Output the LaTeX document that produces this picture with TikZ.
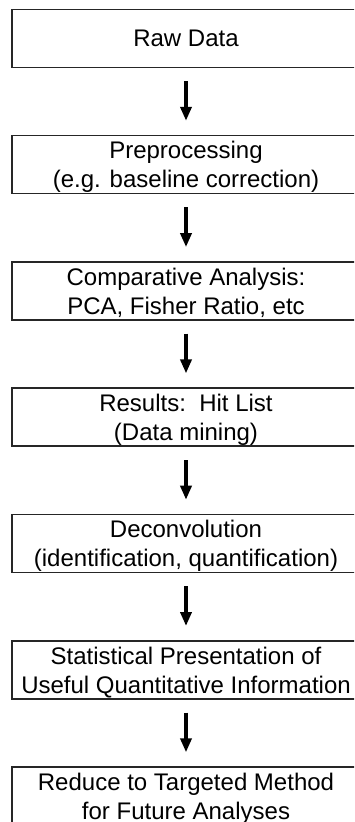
\documentclass[tikz,border=0pt]{standalone}
\usepackage{fontspec}
\setmainfont{Liberation Sans}
\usetikzlibrary{positioning, arrows.meta}
\definecolor{boxline}{HTML}{262626}

\begin{document}
\begin{tikzpicture}[x=1pt, y=1pt, node distance=66.7pt,
      every node/.style={font=\fontsize{24pt}{29pt}\selectfont, align=center},
      stage/.style={draw=boxline, line width=1.6pt, minimum width=348.4pt, minimum height=58pt,
        inner sep=0pt, text depth=0pt},
      flow/.style={-{Triangle[width=11pt, length=14pt]}, line width=3.6pt,
        shorten <=13pt, shorten >=14pt}]
    \clip (0,0) rectangle (354,-822);
    \node[stage] (raw) at (186,-38.3) {Raw Data};
    \node[stage, below=of raw] (prep) {Preprocessing \\ (e.g. baseline correction)};
    \node[stage, below=of prep] (comp) {Comparative Analysis: \\ PCA, Fisher Ratio, etc};
    \node[stage, below=of comp] (hits) {Results:~~Hit List \\ (Data mining)};
    \node[stage, below=of hits] (deconv) {Deconvolution \\ (identification, quantification)};
    \node[stage, below=of deconv] (stats) {Statistical Presentation of \\ Useful Quantitative Information};
    \node[stage, below=of stats] (reduce) {Reduce to Targeted Method \\ for Future Analyses};
    \draw[flow] (raw) -- (prep);
    \draw[flow] (prep) -- (comp);
    \draw[flow] (comp) -- (hits);
    \draw[flow] (hits) -- (deconv);
    \draw[flow] (deconv) -- (stats);
    \draw[flow] (stats) -- (reduce);
  \end{tikzpicture}
\end{document}
